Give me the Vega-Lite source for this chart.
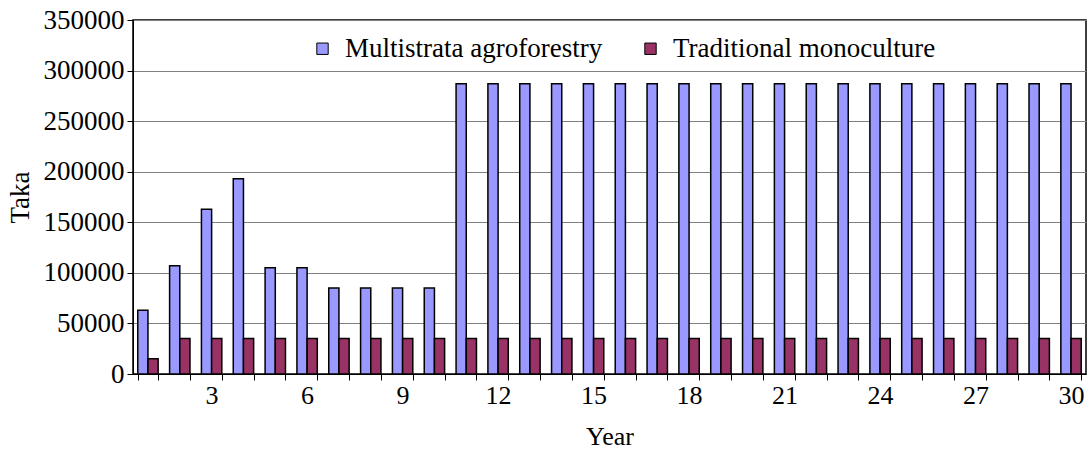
{
  "$schema": "https://vega.github.io/schema/vega-lite/v6.json",
  "autosize": "none",
  "width": 953,
  "height": 354,
  "padding": {"left": 133, "top": 20, "right": 3, "bottom": 78},
  "background": "white",
  "config": {
    "font": "Liberation Serif",
    "view": {"stroke": "black", "strokeWidth": 1.5},
    "axis": {"labelFont": "Liberation Serif", "titleFont": "Liberation Serif", "labelColor": "black", "titleColor": "black", "titleFontWeight": "normal"},
    "legend": {"labelFont": "Liberation Serif", "titleFont": "Liberation Serif"}
  },
  "data": {
    "values": [
      {"year": 1, "system": "Multistrata agroforestry", "taka": 63000},
      {"year": 2, "system": "Multistrata agroforestry", "taka": 107000},
      {"year": 3, "system": "Multistrata agroforestry", "taka": 163000},
      {"year": 4, "system": "Multistrata agroforestry", "taka": 193000},
      {"year": 5, "system": "Multistrata agroforestry", "taka": 105000},
      {"year": 6, "system": "Multistrata agroforestry", "taka": 105000},
      {"year": 7, "system": "Multistrata agroforestry", "taka": 85000},
      {"year": 8, "system": "Multistrata agroforestry", "taka": 85000},
      {"year": 9, "system": "Multistrata agroforestry", "taka": 85000},
      {"year": 10, "system": "Multistrata agroforestry", "taka": 85000},
      {"year": 11, "system": "Multistrata agroforestry", "taka": 287000},
      {"year": 12, "system": "Multistrata agroforestry", "taka": 287000},
      {"year": 13, "system": "Multistrata agroforestry", "taka": 287000},
      {"year": 14, "system": "Multistrata agroforestry", "taka": 287000},
      {"year": 15, "system": "Multistrata agroforestry", "taka": 287000},
      {"year": 16, "system": "Multistrata agroforestry", "taka": 287000},
      {"year": 17, "system": "Multistrata agroforestry", "taka": 287000},
      {"year": 18, "system": "Multistrata agroforestry", "taka": 287000},
      {"year": 19, "system": "Multistrata agroforestry", "taka": 287000},
      {"year": 20, "system": "Multistrata agroforestry", "taka": 287000},
      {"year": 21, "system": "Multistrata agroforestry", "taka": 287000},
      {"year": 22, "system": "Multistrata agroforestry", "taka": 287000},
      {"year": 23, "system": "Multistrata agroforestry", "taka": 287000},
      {"year": 24, "system": "Multistrata agroforestry", "taka": 287000},
      {"year": 25, "system": "Multistrata agroforestry", "taka": 287000},
      {"year": 26, "system": "Multistrata agroforestry", "taka": 287000},
      {"year": 27, "system": "Multistrata agroforestry", "taka": 287000},
      {"year": 28, "system": "Multistrata agroforestry", "taka": 287000},
      {"year": 29, "system": "Multistrata agroforestry", "taka": 287000},
      {"year": 30, "system": "Multistrata agroforestry", "taka": 287000},
      {"year": 1, "system": "Traditional monoculture", "taka": 15000},
      {"year": 2, "system": "Traditional monoculture", "taka": 35000},
      {"year": 3, "system": "Traditional monoculture", "taka": 35000},
      {"year": 4, "system": "Traditional monoculture", "taka": 35000},
      {"year": 5, "system": "Traditional monoculture", "taka": 35000},
      {"year": 6, "system": "Traditional monoculture", "taka": 35000},
      {"year": 7, "system": "Traditional monoculture", "taka": 35000},
      {"year": 8, "system": "Traditional monoculture", "taka": 35000},
      {"year": 9, "system": "Traditional monoculture", "taka": 35000},
      {"year": 10, "system": "Traditional monoculture", "taka": 35000},
      {"year": 11, "system": "Traditional monoculture", "taka": 35000},
      {"year": 12, "system": "Traditional monoculture", "taka": 35000},
      {"year": 13, "system": "Traditional monoculture", "taka": 35000},
      {"year": 14, "system": "Traditional monoculture", "taka": 35000},
      {"year": 15, "system": "Traditional monoculture", "taka": 35000},
      {"year": 16, "system": "Traditional monoculture", "taka": 35000},
      {"year": 17, "system": "Traditional monoculture", "taka": 35000},
      {"year": 18, "system": "Traditional monoculture", "taka": 35000},
      {"year": 19, "system": "Traditional monoculture", "taka": 35000},
      {"year": 20, "system": "Traditional monoculture", "taka": 35000},
      {"year": 21, "system": "Traditional monoculture", "taka": 35000},
      {"year": 22, "system": "Traditional monoculture", "taka": 35000},
      {"year": 23, "system": "Traditional monoculture", "taka": 35000},
      {"year": 24, "system": "Traditional monoculture", "taka": 35000},
      {"year": 25, "system": "Traditional monoculture", "taka": 35000},
      {"year": 26, "system": "Traditional monoculture", "taka": 35000},
      {"year": 27, "system": "Traditional monoculture", "taka": 35000},
      {"year": 28, "system": "Traditional monoculture", "taka": 35000},
      {"year": 29, "system": "Traditional monoculture", "taka": 35000},
      {"year": 30, "system": "Traditional monoculture", "taka": 35000}
    ]
  },
  "mark": {"type": "bar", "stroke": "black", "strokeWidth": 1.5},
  "encoding": {
    "x": {
      "field": "year",
      "type": "ordinal",
      "title": "Year",
      "scale": {"paddingInner": 0.36, "paddingOuter": 0.15},
      "axis": {
        "labelAngle": 0,
        "labelExpr": "datum.value % 3 == 0 ? datum.value : ''",
        "tickBand": "extent",
        "labelFontSize": 26,
        "titleFontSize": 26,
        "labelPadding": 2,
        "titlePadding": 15,
        "domainColor": "black",
        "tickColor": "black",
        "tickSize": 6,
        "grid": false
      }
    },
    "xOffset": {"field": "system", "type": "nominal", "scale": {"paddingInner": 0}},
    "y": {
      "field": "taka",
      "type": "quantitative",
      "title": "Taka",
      "scale": {"domain": [0, 350000], "nice": false},
      "axis": {
        "values": [0, 50000, 100000, 150000, 200000, 250000, 300000, 350000],
        "format": "d",
        "labelFontSize": 27,
        "titleFontSize": 27,
        "labelPadding": 3,
        "titlePadding": 9,
        "domainColor": "black",
        "tickColor": "black",
        "tickSize": 6,
        "gridColor": "#808080",
        "gridWidth": 1
      }
    },
    "color": {
      "field": "system",
      "type": "nominal",
      "scale": {"domain": ["Multistrata agroforestry", "Traditional monoculture"], "range": ["#9999FF", "#993366"]},
      "legend": {
        "title": null,
        "orient": "none",
        "direction": "horizontal",
        "legendX": 176,
        "legendY": 15,
        "symbolType": "square",
        "symbolSize": 130,
        "symbolStrokeColor": "black",
        "symbolStrokeWidth": 1,
        "labelFont": "Liberation Serif",
        "labelFontSize": 27,
        "labelLimit": 0,
        "labelColor": "black",
        "labelOffset": 9,
        "columnPadding": 34,
        "fillColor": "white"
      }
    }
  }
}
